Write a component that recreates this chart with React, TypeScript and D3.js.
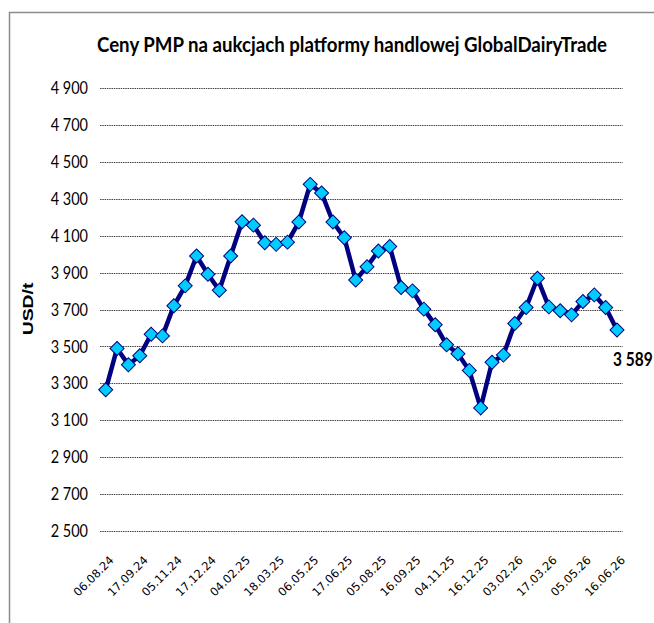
import React, { useEffect, useRef } from 'react';
import * as d3 from 'd3';

// auction dates (only every third one is labelled on the axis)
const dates: string[] = [
  '06.08.24', '20.08.24', '03.09.24', '17.09.24', '01.10.24', '15.10.24',
  '05.11.24', '19.11.24', '03.12.24', '17.12.24', '07.01.25', '21.01.25',
  '04.02.25', '18.02.25', '04.03.25', '18.03.25', '01.04.25', '15.04.25',
  '06.05.25', '20.05.25', '03.06.25', '17.06.25', '01.07.25', '15.07.25',
  '05.08.25', '19.08.25', '02.09.25', '16.09.25', '07.10.25', '21.10.25',
  '04.11.25', '18.11.25', '02.12.25', '16.12.25', '06.01.26', '20.01.26',
  '03.02.26', '17.02.26', '03.03.26', '17.03.26', '07.04.26', '21.04.26',
  '05.05.26', '19.05.26', '02.06.26', '16.06.26',
];

// PMP price, USD/t
const prices: number[] = [
  3265, 3489, 3401, 3449, 3566, 3557, 3720, 3828, 3990, 3891, 3804, 3990,
  4175, 4157, 4062, 4053, 4065, 4174, 4378, 4331, 4174, 4089, 3860, 3932,
  4017, 4041, 3819, 3801, 3702, 3617, 3509, 3460, 3370, 3167, 3414, 3453,
  3624, 3711, 3869, 3714, 3693, 3671, 3743, 3779, 3711, 3589,
];

const yTicks: number[] = [2500, 2700, 2900, 3100, 3300, 3500, 3700, 3900, 4100, 4300, 4500, 4700, 4900];

const title = 'Ceny PMP na aukcjach platformy handlowej GlobalDairyTrade';

const fmt = (v: number) => d3.format(',')(v).replace(',', ' ');

// the narrow original font is imitated by a slight vertical stretch
const stretch = 1.2;

const App = () => {
  const svgRef = useRef<SVGSVGElement>(null);

  useEffect(() => {
    const width = 654;
    const height = 623;
    const svg = d3.select(svgRef.current).attr('width', width).attr('height', height);
    svg.selectAll('*').remove();

    // outer frame
    svg.append('rect')
      .attr('x', 9.5).attr('y', 12.5)
      .attr('width', 700).attr('height', 700)
      .attr('fill', 'none').attr('stroke', '#8c8c8c').attr('stroke-width', 1.5);

    // title
    svg.append('text')
      .attr('transform', `translate(352,52) scale(1,1.25)`)
      .attr('text-anchor', 'middle')
      .attr('font-family', 'Lato, "Open Sans", sans-serif')
      .attr('font-weight', 'bold')
      .attr('font-size', 17)
      .attr('textLength', 510)
      .attr('lengthAdjust', 'spacingAndGlyphs')
      .text(title);

    const x = d3.scaleBand<string>().domain(dates).range([100, 622.7]);
    const y = d3.scaleLinear().domain([2500, 4900]).range([531, 88]);
    const cx = (d: string) => (x(d) ?? 0) + x.bandwidth() / 2;

    // gridlines
    svg.append('g').selectAll('line')
      .data(yTicks).enter().append('line')
      .attr('x1', 100).attr('x2', 622.7)
      .attr('y1', (d) => Math.round(y(d)) + 0.5)
      .attr('y2', (d) => Math.round(y(d)) + 0.5)
      .attr('stroke', '#444')
      .attr('stroke-width', 1)
      .attr('stroke-dasharray', '1.5,0.8');

    // y tick labels
    svg.append('g').selectAll('text')
      .data(yTicks).enter().append('text')
      .attr('transform', (d) => `translate(88,${y(d)}) scale(1,${stretch})`)
      .attr('dy', '0.35em')
      .attr('text-anchor', 'end')
      .attr('font-family', 'Lato, sans-serif')
      .attr('font-size', 14.5)
      .text((d) => fmt(d));

    // y axis title
    svg.append('text')
      .attr('transform', `translate(33,309) scale(1,1.25) rotate(-90)`)
      .attr('text-anchor', 'middle')
      .attr('font-family', '"Liberation Sans", Arial, sans-serif')
      .attr('font-weight', 'bold')
      .attr('font-size', 15.5)
      .text('USD/t');

    // x labels, every third auction
    const shown = dates.filter((_, i) => i % 3 === 0);
    svg.append('g').selectAll('text')
      .data(shown).enter().append('text')
      .attr('transform', (d) => `translate(${cx(d) + 6},558) rotate(-45)`)
      .attr('text-anchor', 'end')
      .attr('dy', '0.35em')
      .attr('font-family', '"DejaVu Sans", Verdana, sans-serif')
      .attr('font-size', 11.5)
      .text((d) => d);

    // price line
    const line = d3.line<number>()
      .x((_, i) => cx(dates[i]))
      .y((d) => y(d));
    svg.append('path')
      .datum(prices)
      .attr('d', line)
      .attr('fill', 'none')
      .attr('stroke', '#000080')
      .attr('stroke-width', 4.5);

    // diamond markers
    const marker = d3.symbol().type(d3.symbolSquare).size(98);
    svg.append('g').selectAll('path')
      .data(prices).enter().append('path')
      .attr('d', marker)
      .attr('transform', (d, i) => `translate(${cx(dates[i])},${y(d)}) rotate(45)`)
      .attr('fill', '#00ccff')
      .attr('stroke', '#000080')
      .attr('stroke-width', 1);

    // last value label
    const last = prices[prices.length - 1];
    svg.append('text')
      .attr('transform', `translate(613,366) scale(1,1.25)`)
      .attr('font-family', 'Lato, sans-serif')
      .attr('font-weight', 'bold')
      .attr('font-size', 15.5)
      .text(fmt(last));
  }, []);

  return <svg ref={svgRef} style={{ position: 'absolute', left: 0, top: 0 }} />;
};

export default App;
